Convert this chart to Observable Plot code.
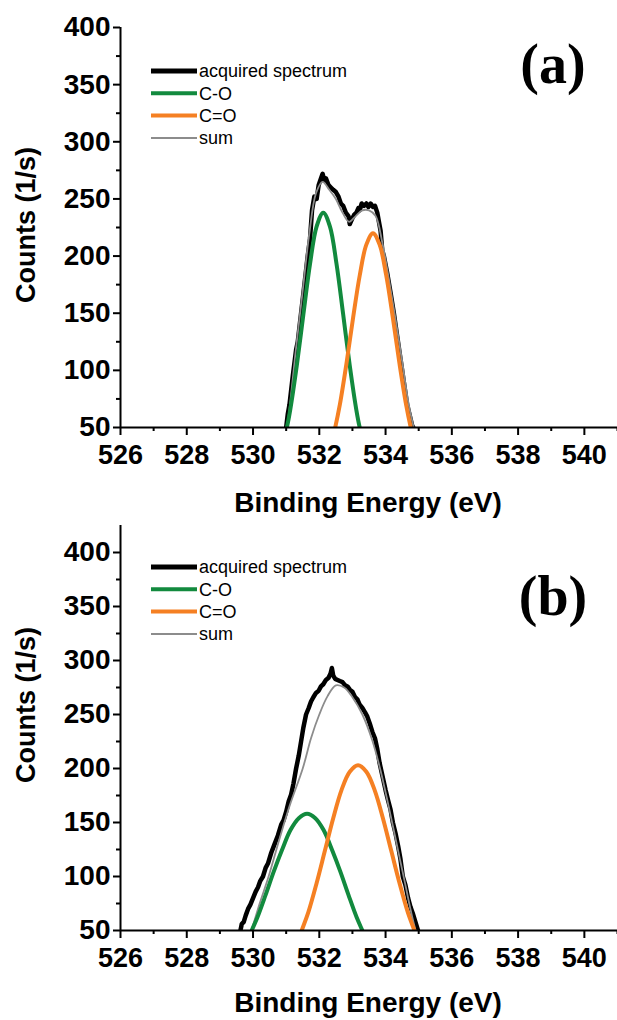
<!DOCTYPE html>
<html><head><meta charset="utf-8">
<script src="https://cdn.jsdelivr.net/npm/d3@7"></script>
<script src="https://cdn.jsdelivr.net/npm/@observablehq/plot@0.6"></script>
<style>
body{margin:0;background:#fff;}
#wrap{position:relative;width:617px;height:1020px;overflow:hidden;background:#fff;}
#wrap svg{position:absolute;left:0;}
</style></head><body><div id="wrap"></div>
<script>
// ---- axis ticks & labels ----
const xMajorTicks = [526,528,530,532,534,536,538,540];
const xMinorTicks = [527,529,531,533,535,537,539,541];
const yMajorTicks = [50,100,150,200,250,300,350,400];
const yMinorTicks = [75,125,175,225,275,325,375];
const seriesNames = ["acquired spectrum","C-O","C=O","sum"];
const seriesColors = ["#000000","#128a3e","#f58023","#8c8c8c"];
const panelLabels = ["(a)","(b)"];
const xTitle = "Binding Energy (eV)";
const yTitle = "Counts (1/s)";

// ---- panel (a) data: [binding energy eV, counts 1/s] ----
const spectrumA = [[530.9,40],[531.0,50],[531.05,62],[531.1,70],[531.2,95],[531.3,118],[531.35,125],[531.45,150],[531.55,175],[531.65,200],[531.72,215],[531.78,240],[531.85,252],[531.92,250],[531.98,262],[532.05,268],[532.1,272],[532.15,266],[532.2,268],[532.28,262],[532.35,260],[532.42,258],[532.5,256],[532.58,252],[532.65,246],[532.72,244],[532.8,238],[532.88,235],[532.92,228],[532.98,232],[533.05,236],[533.12,238],[533.18,242],[533.22,240],[533.28,246],[533.35,244],[533.42,246],[533.48,243],[533.55,246],[533.62,243],[533.68,244],[533.75,238],[533.8,230],[533.85,222],[533.9,205],[533.95,200],[534.05,185],[534.15,168],[534.25,150],[534.35,130],[534.45,110],[534.55,90],[534.65,70],[534.75,58],[534.8,52],[534.87,48]];
const sumA = [[530.95,40],[531.05,55],[531.3,120],[531.5,170],[531.7,220],[531.9,255],[532.1,265],[532.3,258],[532.5,250],[532.7,238],[532.9,230],[533.1,235],[533.3,240],[533.5,240],[533.7,235],[533.9,212],[534.1,180],[534.3,145],[534.5,108],[534.7,70],[534.85,50],[534.95,38]];
const coA = [[530.92,40],[531.02,50],[531.12,65],[531.32,104],[531.52,149],[531.72,193],[531.92,226],[532.12,238],[532.32,226],[532.52,193],[532.72,149],[532.92,104],[533.12,65],[533.22,50],[533.32,40]];
const c_oA = [[532.37,37],[532.48,50],[532.62,70],[532.82,106],[533.02,146],[533.22,183],[533.42,210],[533.62,220],[533.82,210],[534.02,183],[534.22,146],[534.42,106],[534.62,70],[534.76,50],[534.87,37]];

// ---- panel (b) data ----
const spectrumB = [[529.55,45],[529.62,50],[529.66,56],[529.72,58],[529.78,64],[529.85,70],[529.92,74],[530.0,80],[530.08,86],[530.15,90],[530.22,96],[530.3,100],[530.38,108],[530.45,112],[530.55,122],[530.65,130],[530.75,138],[530.85,148],[530.92,152],[531.0,160],[531.08,170],[531.15,176],[531.22,186],[531.3,200],[531.38,212],[531.45,225],[531.52,238],[531.6,250],[531.68,256],[531.75,262],[531.82,266],[531.9,270],[531.98,272],[532.05,276],[532.12,278],[532.2,282],[532.28,284],[532.34,288],[532.38,293],[532.42,286],[532.48,283],[532.55,282],[532.62,281],[532.7,280],[532.78,277],[532.85,276],[532.92,273],[533.0,271],[533.08,266],[533.15,264],[533.22,259],[533.3,256],[533.38,252],[533.45,248],[533.52,242],[533.6,234],[533.68,228],[533.75,218],[533.82,205],[533.9,194],[534.0,180],[534.08,170],[534.15,162],[534.22,150],[534.3,140],[534.38,128],[534.45,116],[534.52,100],[534.6,92],[534.68,80],[534.75,72],[534.82,66],[534.9,58],[534.96,52],[535.02,46]];
const sumB = [[529.85,42],[529.95,50],[530.2,75],[530.47,100],[530.8,135],[531.1,165],[531.5,200],[531.75,228],[532.0,250],[532.25,267],[532.5,277],[532.75,275],[533.0,266],[533.3,250],[533.6,226],[533.85,198],[534.1,164],[534.35,128],[534.6,92],[534.8,63],[534.95,45]];
const coB = [[529.85,41],[529.96,50],[530.13,62],[530.38,83],[530.63,105],[530.88,125],[531.13,143],[531.38,154],[531.63,158],[531.88,154],[532.13,143],[532.38,125],[532.63,105],[532.88,83],[533.13,62],[533.3,50],[533.43,41]];
const c_oB = [[531.37,41],[531.47,50],[531.67,67],[531.92,94],[532.17,124],[532.42,154],[532.67,180],[532.92,197],[533.17,203],[533.42,197],[533.67,180],[533.92,154],[534.17,124],[534.42,94],[534.67,67],[534.87,50],[534.97,41]];

const panels = [
  {top:0, height:520, marginTop:27, marginBottom:93, yDomain:[50,400], label:panelLabels[0], labelY:83, yTitleY:225, xTitleY:512, legendY:71,
   series:[spectrumA, coA, c_oA, sumA]},
  {top:505, height:515, marginTop:20, marginBottom:90, yDomain:[50,425], label:panelLabels[1], labelY:110, yTitleY:200, xTitleY:507, legendY:62,
   series:[spectrumB, coB, c_oB, sumB]}
];

const sans = "'Liberation Sans', Arial, Helvetica, sans-serif";
const wrap = document.getElementById("wrap");

for (const p of panels) {
  const [spec, co, c_o, sum] = p.series;
  const chart = Plot.plot({
    width: 617, height: p.height,
    marginLeft: 120, marginRight: 0, marginTop: p.marginTop, marginBottom: p.marginBottom,
    x: {domain: [526, 541]},
    y: {domain: p.yDomain},
    style: {fontFamily: sans, fontWeight: "bold", color: "#000", background: "transparent", overflow: "visible"},
    marks: [
      Plot.axisY({ticks: yMajorTicks, tickSize: 7, tickPadding: 3, strokeWidth: 2, fontSize: 28, label: null}),
      Plot.axisY({ticks: yMinorTicks, tickSize: 4, strokeWidth: 2, tickFormat: () => "", label: null}),
      Plot.axisX({ticks: xMajorTicks, tickSize: 8, tickPadding: 9, strokeWidth: 2, fontSize: 27, label: null}),
      Plot.axisX({ticks: xMinorTicks, tickSize: 4, strokeWidth: 2, tickFormat: () => "", label: null}),
      Plot.line(spec, {x: d => d[0], y: d => d[1], stroke: seriesColors[0], strokeWidth: 4.5, clip: true}),
      Plot.line(sum, {x: d => d[0], y: d => d[1], stroke: seriesColors[3], strokeWidth: 1.8, curve: "catmull-rom", clip: true}),
      Plot.line(co, {x: d => d[0], y: d => d[1], stroke: seriesColors[1], strokeWidth: 4, curve: "catmull-rom", clip: true}),
      Plot.line(c_o, {x: d => d[0], y: d => d[1], stroke: seriesColors[2], strokeWidth: 4, curve: "catmull-rom", clip: true}),
      Plot.ruleX([526], {strokeWidth: 2}),
      Plot.ruleY([50], {strokeWidth: 2})
    ]
  });
  chart.style.top = p.top + "px";
  wrap.appendChild(chart);
  const svg = d3.select(chart);

  // legend
  const widths = [5, 4, 4, 2];
  const lg = svg.append("g");
  seriesNames.forEach((name, i) => {
    const y = p.legendY + i * 22.3;
    lg.append("line").attr("x1", 151).attr("x2", 197).attr("y1", y).attr("y2", y)
      .attr("stroke", seriesColors[i]).attr("stroke-width", widths[i]);
    lg.append("text").attr("x", 199).attr("y", y).attr("dy", "0.36em").attr("text-anchor", "start")
      .attr("font-family", sans).attr("font-weight", "normal").attr("font-size", 18)
      .attr("fill", "#000").text(name);
  });

  // panel label
  svg.append("text").attr("x", 553).attr("y", p.labelY).attr("text-anchor", "middle")
    .attr("font-family", "'Liberation Serif', 'Times New Roman', serif").attr("font-weight", "bold")
    .attr("font-size", 56).attr("fill", "#000").text(p.label);

  // axis titles
  svg.append("text").attr("x", 368).attr("y", p.xTitleY).attr("text-anchor", "middle")
    .attr("font-family", sans).attr("font-weight", "bold").attr("font-size", 28).attr("fill", "#000").text(xTitle);
  svg.append("text").attr("transform", `translate(25,${p.yTitleY}) rotate(-90)`).attr("text-anchor", "middle")
    .attr("dy", "0.36em").attr("font-family", sans).attr("font-weight", "bold").attr("font-size", 27)
    .attr("fill", "#000").text(yTitle);
}
</script></body></html>
